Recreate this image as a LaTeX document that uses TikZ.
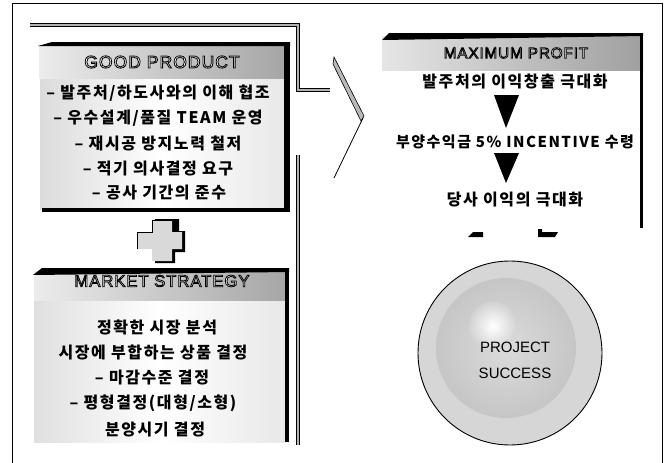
\documentclass[tikz,border=0pt]{standalone}
\usepackage{fontspec}
\setmainfont{Noto Sans CJK KR}
\newfontfamily\kor[LetterSpace=10]{Noto Sans CJK KR}
\newfontfamily\latinf[LetterSpace=6]{Liberation Sans}
\newfontfamily\latinp{Liberation Sans}
\newcommand\outl[1]{{\color{white}\special{pdf:code 2 Tr 0.8 w 0 G}#1\special{pdf:code 0 Tr}}}
\tikzset{
  body/.style={font=\kor\bfseries\fontsize{16}{18}\selectfont, anchor=center, inner sep=0pt},
  head/.style={font=\latinf\fontsize{16}{18}\selectfont, anchor=center, inner sep=0pt},
  edge/.style={fill=black},
  tri/.style={fill=black},
  bar/.style={line width=4pt, draw=black},
  barin/.style={line width=2.2pt, draw=gray!60},
}
\begin{document}
\begin{tikzpicture}[x=1pt,y=-1pt]
\useasboundingbox (0,0) rectangle (667,463);
\fill[white] (0,0) rectangle (667,463);
% outer frame
\draw[line width=1pt] (12,463) -- (12,3) -- (662,3) -- (662,463);
% back bracket
\draw[bar] (30,25) -- (298,25) -- (298,90) -- (330,90);
\draw[barin] (30,25) -- (298,25) -- (298,90) -- (330,90);
\draw[bar] (298,155) -- (298,445);
\draw[barin] (298,155) -- (298,445);
% chevron
\fill[gray!55,draw=black,line width=0.6pt] (334,57) -- (364,116) -- (361,121) -- (333,64) -- cycle;
\draw[line width=0.8pt] (363,118) -- (334,178);

% GOOD PRODUCT box
\shade[left color=gray!28, right color=gray!18, middle color=white] (40,78) rectangle (285,209);
\shade[left color=gray!15, right color=gray!70] (39,45) rectangle (285,78);
\fill[edge] (38,46) -- (52,42) -- (290,42) -- (290,46) -- cycle;
\fill[edge] (284,42) rectangle (290,212);
\fill[edge] (42,208) rectangle (290,212);
\node[head, font=\latinf\fontsize{17.5}{19}\selectfont] (gp) at (162,62) {\outl{GOOD PRODUCT}};
\node[body] (g1) at (158,93) {– 발주처/하도사와의 이해 협조};
\node[body] (g2) at (158,118) {– 우수설계/품질 TEAM 운영};
\node[body] (g3) at (158,144) {– 재시공 방지노력 철저};
\node[body] (g4) at (158,169) {– 적기 의사결정 요구};
\node[body] (g5) at (159,193) {– 공사 기간의 준수};

% plus
\fill[black] (155,219) -- (179,219) -- (179,231) -- (185,231) -- (185,252) -- (175,252) -- (175,263) -- (155,263) -- cycle;
\fill[gray!30] (152,220) -- (172,220) -- (172,232) -- (182,232) -- (182,249) -- (172,249) -- (172,261) -- (152,261) -- (152,249) -- (137,249) -- (137,232) -- (152,232) -- cycle;
\draw[black,line width=0.8pt] (137,249) -- (137,232) -- (152,232) -- (152,220) -- (172,220);

% MARKET STRATEGY box
\shade[left color=gray!25, right color=gray!18, middle color=white] (34,300) rectangle (285,442);
\shade[left color=gray!15, right color=gray!70] (34,271) rectangle (288,300);
\fill[edge] (33,275) -- (42,268) -- (289,268) -- (289,272) -- cycle;
\fill[edge] (285,268) rectangle (289,442);
\node[head, font=\latinf\fontsize{16.6}{18}\selectfont] (ms) at (162,281) {\outl{MARKET STRATEGY}};
\node[body] (m1) at (157,327) {정확한 시장 분석};
\node[body] (m2) at (153,352) {시장에 부합하는 상품 결정};
\node[body] (m3) at (152,378) {– 마감수준 결정};
\node[body] (m4) at (153,403) {– 평형결정(대형/소형)};
\node[body] (m5) at (155,430) {분양시기 결정};

% MAXIMUM PROFIT box
\shade[left color=gray!20, right color=gray!75] (382,36) rectangle (643,70);
\fill[edge] (382,40) -- (389,33) -- (643,33) -- (643,36) -- cycle;
\fill[edge] (640,36) rectangle (643,228);
\node[head, font=\latinf\fontsize{15.2}{17}\selectfont] (mp) at (516,53) {\outl{MAXIMUM PROFIT}};
\node[body] (p1) at (515,82) {발주처의 이익창출 극대화};
\fill[tri] (494,95) -- (519,95) -- (506,128) -- cycle;
\node[body, font=\kor\bfseries\fontsize{15}{17}\selectfont] (p2) at (515,142) {부양수익금 5\% INCENTIVE 수령};
\fill[tri] (494,153) -- (519,153) -- (506,183) -- cycle;
\node[body] (p3) at (515,200) {당사 이익의 극대화};
\fill[black] (468,237) -- (473,232) -- (483,232) -- (483,237) -- cycle;
\fill[black] (538,229) -- (542,229) -- (542,232) -- (558,232) -- (555,237) -- (538,237) -- cycle;

% circle
\fill[gray!32] (510,353) circle (92);
\shade[inner color=gray!28, outer color=gray!45] (506,348) circle (70);
\shade[inner color=white, outer color=gray!35] (493,326) circle (24);
\draw[line width=0.9pt] (510,353) circle (92);
\node[font=\latinp\fontsize{15}{17}\selectfont, inner sep=0pt] (ps1) at (515,347) {PROJECT};
\node[font=\latinp\fontsize{15}{17}\selectfont, inner sep=0pt] (ps2) at (515,373) {SUCCESS};
\end{tikzpicture}
\end{document}
